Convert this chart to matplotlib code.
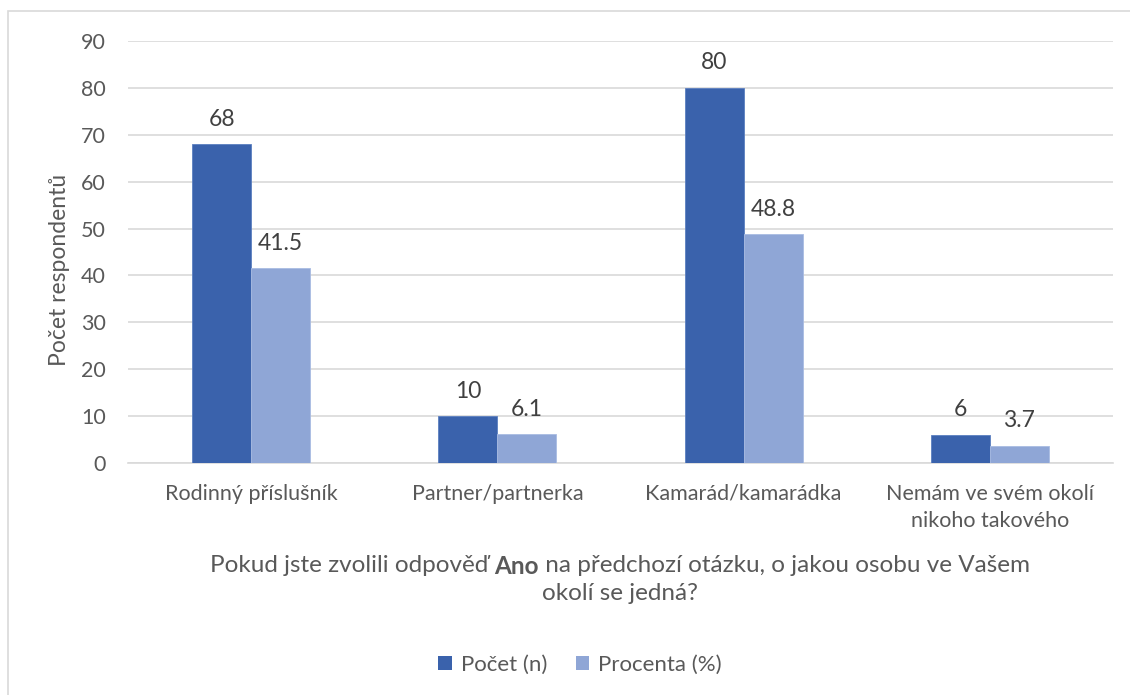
import matplotlib
matplotlib.use("Agg")
import matplotlib.pyplot as plt
from matplotlib.patches import Rectangle, Patch
import numpy as np

categories = ["Rodinný příslušník", "Partner/partnerka", "Kamarád/kamarádka",
              "Nemám ve svém okolí\nnikoho takového"]
pocet = [68, 10, 80, 6]
procenta = [41.5, 6.1, 48.8, 3.7]
pocet_labels = ["68", "10", "80", "6"]
procenta_labels = ["41.5", "6.1", "48.8", "3.7"]
series_names = ["Počet (n)", "Procenta (%)"]
yticks = [0, 10, 20, 30, 40, 50, 60, 70, 80, 90]

dark = "#3A62AC"
light = "#8FA6D6"
text_col = "#595959"
grid_col = "#D9D9D9"

plt.rcParams["font.family"] = ["Lato", "DejaVu Sans"]

W, H = 1130, 695
fig = plt.figure(figsize=(W / 100, H / 100), dpi=100)

# chart frame
fig.patches.append(Rectangle((8 / W, -0.1), 1.2, 1 - 11 / H + 0.1,
                             transform=fig.transFigure, fill=False,
                             edgecolor="#D9D9D9", linewidth=1.2))

ax = fig.add_axes([128 / W, 1 - 463 / H, (1113 - 128) / W, (463 - 41) / H])
x = np.arange(len(categories))
bw = 0.24
b1 = ax.bar(x - bw / 2, pocet, bw, color=dark, edgecolor="#5B7FC0", linewidth=0.6, zorder=3)
b2 = ax.bar(x + bw / 2, procenta, bw, color=light, edgecolor="#A9BCE2", linewidth=0.6, zorder=3)

for bars, labels in ((b1, pocet_labels), (b2, procenta_labels)):
    for rect, lab in zip(bars, labels):
        ax.annotate(lab, (rect.get_x() + rect.get_width() / 2, rect.get_height()),
                    xytext=(0, 10.5), textcoords="offset points", ha="center", va="bottom",
                    fontsize=16.5, color="#404040")

ax.set_xlim(-0.5, len(categories) - 0.5)
ax.set_ylim(0, 90)
ax.set_yticks(yticks)
ax.set_yticklabels([str(v) for v in yticks], fontsize=15.5, color=text_col)
ax.set_xticks(x)
ax.set_xticklabels(categories, fontsize=15.5, color=text_col, linespacing=1.45)
ax.tick_params(axis="both", length=0)
ax.tick_params(axis="y", pad=16)
ax.tick_params(axis="x", pad=15)
ax.grid(axis="y", color=grid_col, linewidth=1.2, zorder=0)
for s in ("top", "right", "left"):
    ax.spines[s].set_visible(False)
ax.spines["bottom"].set_color(grid_col)
ax.spines["bottom"].set_linewidth(1.2)

fig.text(60 / W, 1 - 270 / H, "Počet respondentů", fontsize=16.5, color=text_col,
         rotation=90, ha="center", va="center")

# x-axis title with a bold word
fig.canvas.draw()
renderer = fig.canvas.get_renderer()
parts = [("Pokud jste zvolili odpověď ", "normal"), ("Ano", "bold"),
         (" na předchozí otázku, o jakou osobu ve Vašem", "normal")]
y1 = 1 - 566 / H
texts = []
for s, w in parts:
    t = fig.text(0, y1, s, fontsize=17.5, color=text_col, fontweight=w, va="center", ha="left")
    texts.append(t)
widths = [t.get_window_extent(renderer).width for t in texts]
total = sum(widths)
start = 620 - total / 2
for t, w in zip(texts, widths):
    t.set_x(start / W)
    start += w
fig.text(620 / W, 1 - 594 / H, "okolí se jedná?", fontsize=17.5, color=text_col,
         ha="center", va="center")

handles = [Patch(facecolor=dark), Patch(facecolor=light)]
fig.legend(handles, series_names, loc="center", bbox_to_anchor=(580 / W, 1 - 665 / H),
           ncol=2, frameon=False, fontsize=16, labelcolor=text_col,
           handlelength=0.6, handleheight=0.6, handletextpad=0.4, columnspacing=1.3)

fig.savefig("out.png", dpi=100, facecolor="white")
